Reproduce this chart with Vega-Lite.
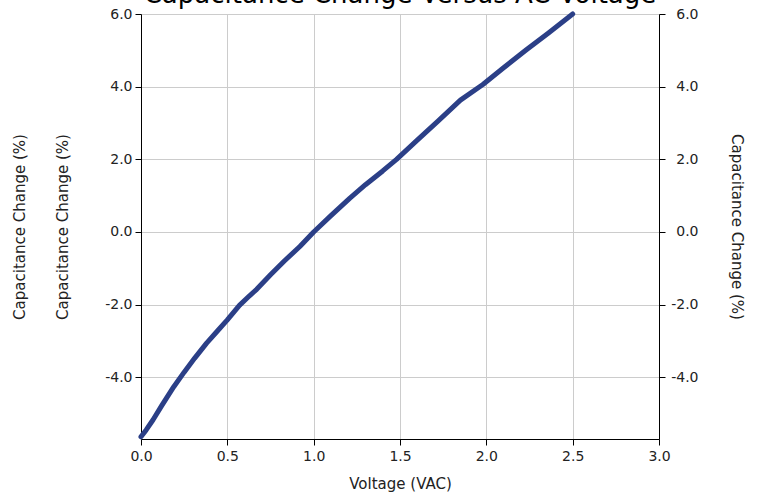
{
  "$schema": "https://vega.github.io/schema/vega-lite/v6.json",
  "autosize": {"type": "none"},
  "width": 518,
  "height": 425,
  "padding": {"left": 141, "top": 14, "right": 107, "bottom": 61},
  "background": "white",
  "title": {"text": "Capacitance Change Versus AC Voltage", "font": "DejaVu Sans", "fontSize": 26, "fontWeight": "normal", "color": "#000000", "offset": -1},
  "config": {
    "view": {"stroke": null},
    "font": "DejaVu Sans",
    "axis": {
      "labelFont": "DejaVu Sans", "labelFontSize": 14, "labelColor": "#222222",
      "titleFont": "DejaVu Sans", "titleFontSize": 15, "titleFontWeight": "normal", "titleColor": "#222222",
      "domainColor": "#000000", "tickColor": "#000000", "tickSize": 6, "labelPadding": 3,
      "gridColor": "#cccccc", "gridWidth": 1, "labelFlush": false
    }
  },
  "data": {"values": [
    {"v": 0.00, "c": -5.64},
    {"v": 0.03, "c": -5.45},
    {"v": 0.07, "c": -5.17},
    {"v": 0.12, "c": -4.78},
    {"v": 0.19, "c": -4.26},
    {"v": 0.25, "c": -3.86},
    {"v": 0.31, "c": -3.48},
    {"v": 0.38, "c": -3.06},
    {"v": 0.44, "c": -2.74},
    {"v": 0.50, "c": -2.42},
    {"v": 0.57, "c": -2.02},
    {"v": 0.63, "c": -1.75},
    {"v": 0.67, "c": -1.58},
    {"v": 0.75, "c": -1.18},
    {"v": 0.83, "c": -0.80},
    {"v": 0.92, "c": -0.40},
    {"v": 1.00, "c": 0.00},
    {"v": 1.10, "c": 0.45},
    {"v": 1.21, "c": 0.93},
    {"v": 1.30, "c": 1.30},
    {"v": 1.40, "c": 1.68},
    {"v": 1.48, "c": 2.00},
    {"v": 1.60, "c": 2.53},
    {"v": 1.72, "c": 3.05},
    {"v": 1.85, "c": 3.63},
    {"v": 1.98, "c": 4.06},
    {"v": 2.10, "c": 4.52},
    {"v": 2.23, "c": 5.01},
    {"v": 2.36, "c": 5.48},
    {"v": 2.50, "c": 6.00}
  ]},
  "encoding": {
    "x": {"field": "v", "type": "quantitative",
      "scale": {"domain": [0, 3], "nice": false},
      "axis": {"title": "Voltage (VAC)", "values": [0, 0.5, 1, 1.5, 2, 2.5, 3], "format": ".1f", "grid": true, "labelPadding": 4, "titlePadding": 13}}
  },
  "layer": [
    {
      "mark": {"type": "line", "color": "#2b3f87", "strokeWidth": 5, "strokeCap": "round", "strokeJoin": "round"},
      "encoding": {
        "y": {"field": "c", "type": "quantitative",
          "scale": {"domain": [-5.7, 6.0], "nice": false, "zero": false},
          "axis": {"orient": "left", "title": ["Capacitance Change (%)", "Capacitance Change (%)"], "titleLineHeight": 43,
            "values": [-4, -2, 0, 2, 4, 6], "labelExpr": "replace(format(datum.value, '.1f'), '\u2212', '-')", "grid": true, "titlePadding": 34}}
      }
    },
    {
      "mark": {"type": "line", "opacity": 0},
      "encoding": {
        "y": {"field": "c", "type": "quantitative",
          "scale": {"domain": [-5.7, 6.0], "nice": false, "zero": false},
          "axis": {"orient": "right", "title": "Capacitance Change (%)",
            "values": [-4, -2, 0, 2, 4, 6], "labelExpr": "replace(format(datum.value, '.1f'), '\u2212', '-')", "labelAlign": "right", "labelPadding": 33, "grid": false, "titlePadding": 30}}
      }
    }
  ],
  "resolve": {"scale": {"y": "independent"}}
}
